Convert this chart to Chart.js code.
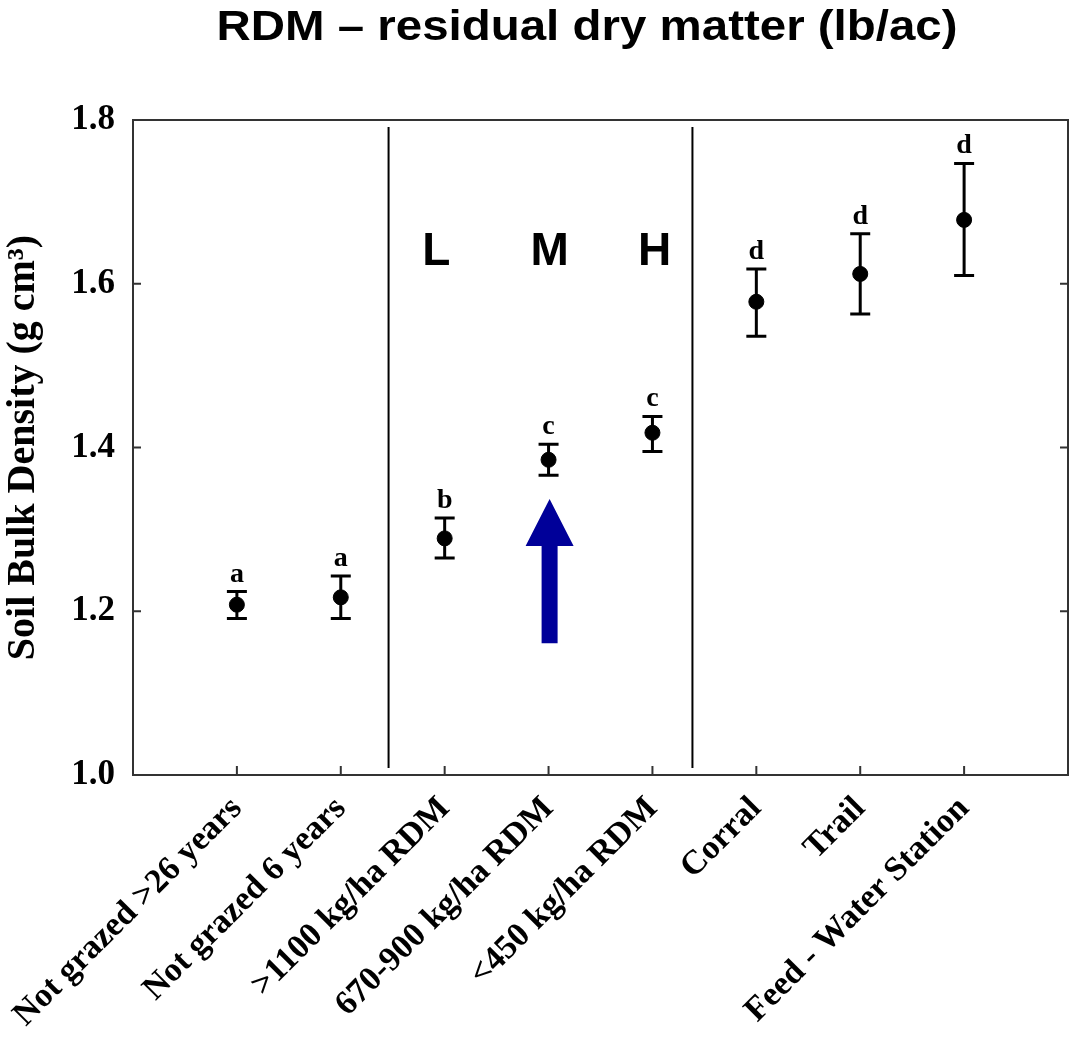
<!DOCTYPE html>
<html>
<head>
<meta charset="utf-8">
<script src="https://cdn.jsdelivr.net/npm/chart.js@4"></script>
<style>
  html, body { margin: 0; padding: 0; background: #fff; }
  #wrap { width: 1070px; height: 1041px; }
</style>
</head>
<body>
<div id="wrap"><canvas id="bdChart"></canvas></div>
<script>
// categories (x positions 1..8 on a 0..9 linear axis)
var categories = ['Not grazed >26 years', 'Not grazed 6 years', '>1100 kg/ha RDM',
    '670-900 kg/ha RDM', '<450 kg/ha RDM', 'Corral', 'Trail', 'Feed - Water Station'];
var meanBD = [1.208, 1.217, 1.289, 1.385, 1.418, 1.578, 1.612, 1.678];
var upperBD = [1.224, 1.243, 1.314, 1.404, 1.438, 1.618, 1.661, 1.747];
var lowerBD = [1.191, 1.191, 1.265, 1.366, 1.395, 1.536, 1.563, 1.610];
var sigLetters = ['a', 'a', 'b', 'c', 'c', 'd', 'd', 'd'];
var yTicks = [1.0, 1.2, 1.4, 1.6, 1.8];
var chartTitle = 'RDM \u2013 residual dry matter (lb/ac)';

// annotations
var groupLabels = ['L', 'M', 'H'];
var groupLabelX = [2.92, 4.01, 5.02];
var groupLabelY = 1.639;
var dividerX = [2.46, 5.385];
var arrowX = 4.01, arrowFrom = 1.161, arrowTo = 1.337;

var points = meanBD.map(function (v, i) { return { x: i + 1, y: v }; });

var extras = {
    id: 'extras',
    beforeDatasetsDraw: function (chart) {
        var c = chart.ctx, a = chart.chartArea;
        var xs = chart.scales.x, ys = chart.scales.y;
        c.save();
        // frame
        c.strokeStyle = '#333';
        c.lineWidth = 2;
        c.strokeRect(a.left, a.top, a.right - a.left, a.bottom - a.top);
        // inward ticks
        c.beginPath();
        yTicks.forEach(function (t) {
            var py = ys.getPixelForValue(t);
            c.moveTo(a.left, py); c.lineTo(a.left + 8, py);
            c.moveTo(a.right, py); c.lineTo(a.right - 8, py);
        });
        categories.forEach(function (n, i) {
            var px = xs.getPixelForValue(i + 1);
            c.moveTo(px, a.bottom); c.lineTo(px, a.bottom - 9);
        });
        c.stroke();
        // group dividers
        c.strokeStyle = '#000';
        c.lineWidth = 2;
        c.beginPath();
        dividerX.forEach(function (d) {
            var px = xs.getPixelForValue(d);
            c.moveTo(px, a.top + 7); c.lineTo(px, a.bottom - 7);
        });
        c.stroke();
        // error bars
        c.lineWidth = 3;
        c.beginPath();
        meanBD.forEach(function (v, i) {
            var px = xs.getPixelForValue(i + 1);
            var top = ys.getPixelForValue(upperBD[i]);
            var bot = ys.getPixelForValue(lowerBD[i]);
            c.moveTo(px, top); c.lineTo(px, bot);
            c.moveTo(px - 10, top); c.lineTo(px + 10, top);
            c.moveTo(px - 10, bot); c.lineTo(px + 10, bot);
        });
        c.stroke();
        c.restore();
    },
    afterDatasetsDraw: function (chart) {
        var c = chart.ctx;
        var xs = chart.scales.x, ys = chart.scales.y;
        c.save();
        c.fillStyle = '#000';
        c.textAlign = 'center';
        c.textBaseline = 'alphabetic';
        c.font = 'bold 28px "Liberation Serif", "Times New Roman", serif';
        sigLetters.forEach(function (s, i) {
            c.fillText(s, xs.getPixelForValue(i + 1), ys.getPixelForValue(upperBD[i]) - 10);
        });
        c.font = 'bold 46px "Liberation Sans", Arial, sans-serif';
        c.textBaseline = 'middle';
        groupLabels.forEach(function (s, i) {
            c.fillText(s, xs.getPixelForValue(groupLabelX[i]), ys.getPixelForValue(groupLabelY));
        });
        // blue arrow
        var ax = xs.getPixelForValue(arrowX);
        var y0 = ys.getPixelForValue(arrowFrom), y1 = ys.getPixelForValue(arrowTo);
        var head = 47, shaft = 8, wing = 24;
        c.fillStyle = '#000099';
        c.beginPath();
        c.moveTo(ax - shaft, y0);
        c.lineTo(ax - shaft, y1 + head);
        c.lineTo(ax - wing, y1 + head);
        c.lineTo(ax, y1);
        c.lineTo(ax + wing, y1 + head);
        c.lineTo(ax + shaft, y1 + head);
        c.lineTo(ax + shaft, y0);
        c.closePath();
        c.fill();
        // title (slightly wide, like the slide)
        c.fillStyle = '#000';
        c.font = 'bold 42px "Liberation Sans", Arial, sans-serif';
        c.textBaseline = 'middle';
        c.translate(587, 28);
        c.scale(1.13, 1);
        c.fillText(chartTitle, 0, 0);
        c.restore();
    }
};

var ctx = document.getElementById('bdChart').getContext('2d');
var myChart = new Chart(ctx, {
    type: 'scatter',
    data: {
        datasets: [{
            label: 'Soil Bulk Density',
            data: points,
            backgroundColor: '#000',
            borderColor: '#000',
            pointRadius: 7.5,
            pointHoverRadius: 7.5
        }]
    },
    options: {
        responsive: true,
        maintainAspectRatio: false,
        animation: false,
        layout: { autoPadding: false, padding: { left: 0, right: 2, top: 120, bottom: 0 } },
        plugins: {
            legend: { display: false },
            tooltip: { enabled: false },
            title: { display: false }
        },
        scales: {
            x: {
                type: 'linear',
                min: 0,
                max: 9,
                afterBuildTicks: function (scale) {
                    scale.ticks = categories.map(function (n, i) { return { value: i + 1 }; });
                },
                afterFit: function (scale) {
                    scale.height = 266;
                    scale.paddingLeft = 0;
                    scale.paddingRight = 0;
                },
                grid: { display: false, drawTicks: false },
                border: { display: false },
                ticks: {
                    autoSkip: false,
                    maxRotation: 45,
                    minRotation: 45,
                    padding: 14,
                    color: '#000',
                    font: { family: '"Liberation Serif", "Times New Roman", serif', size: 34, weight: 'bold' },
                    callback: function (v) { return categories[v - 1] || ''; }
                }
            },
            y: {
                min: 1.0,
                max: 1.8,
                afterBuildTicks: function (scale) {
                    scale.ticks = yTicks.map(function (t) { return { value: t }; });
                },
                afterFit: function (scale) {
                    scale.width = 133;
                    scale.paddingTop = 0;
                    scale.paddingBottom = 0;
                },
                grid: { display: false, drawTicks: false },
                border: { display: false },
                ticks: {
                    padding: 18,
                    color: '#000',
                    font: { family: '"Liberation Serif", "Times New Roman", serif', size: 35, weight: 'bold' },
                    callback: function (v) { return v.toFixed(1); }
                },
                title: {
                    display: true,
                    text: 'Soil Bulk Density (g cm\u00B3)',
                    color: '#000',
                    padding: { top: 0, bottom: 0 },
                    font: { family: '"Liberation Serif", "Times New Roman", serif', size: 40, weight: 'bold' }
                }
            }
        }
    },
    plugins: [extras]
});
</script>
</body>
</html>
